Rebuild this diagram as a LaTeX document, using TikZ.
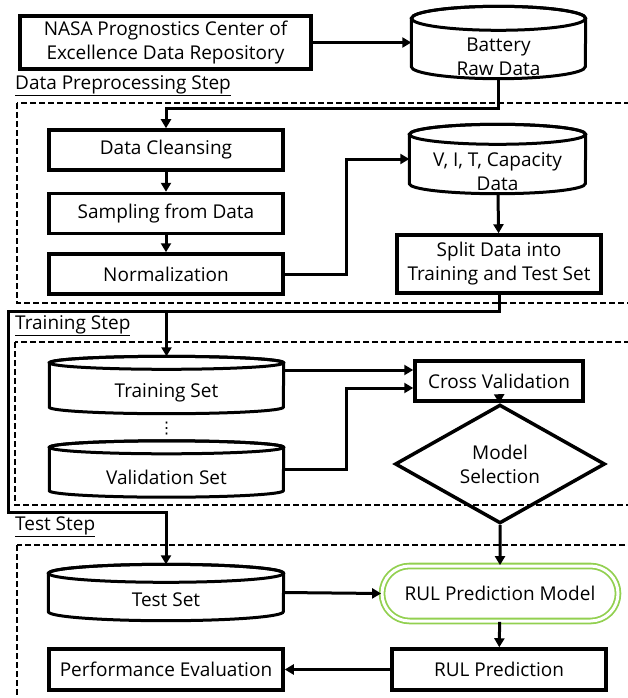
\documentclass[tikz,border=0pt]{standalone}
\usepackage{fontspec}
\setmainfont{Open Sans}
\newfontfamily\symfont{DejaVu Sans}
\usetikzlibrary{shapes.geometric,shapes.misc,arrows.meta,positioning,calc}
\definecolor{rulgreen}{RGB}{146,208,80}
\tikzset{
  basenode/.style = {align=center, inner sep=0pt, text centered, font=\fontsize{19}{24}\selectfont, text=black},
  proc_b/.style = {basenode, rectangle, draw=black, line width=3.5pt, fill=white},
  db_c/.style = {basenode, rectangle},
  db_line/.style = {draw=black, line width=3pt, fill=white},
  dec_d/.style = {basenode, diamond, draw=black, line width=3.5pt},
  model_r/.style = {basenode, rounded rectangle, draw=rulgreen, double=white, double distance=3pt, line width=1.8pt},
  step_lbl/.style = {basenode, anchor=west},
  step_frame/.style = {draw=black, line width=1.5pt, dash pattern=on 6pt off 3pt},
  arr/.style = {line width=3pt, -{Triangle[length=9pt,width=10pt]}}
}
\begin{document}
\begin{tikzpicture}[x=1pt, y=-1pt]
  \useasboundingbox (0,0) rectangle (628,698);
  \clip (0,0) rectangle (628,698);
  % step frames
  \draw [step_frame] (17,103) rectangle (650,303);
  \draw [step_frame] (15,342) rectangle (650,505);
  \draw [step_frame] (17,545) rectangle (650,720);
  \node [step_lbl] (lbl_pre) at (15,86) {\underline{Data Preprocessing Step}};
  \node [step_lbl] (lbl_trn) at (15,326) {\underline{Training Step}};
  \node [step_lbl] (lbl_tst) at (15,527) {\underline{Test Step}};

  % data preprocessing
  \node [proc_b, minimum width=291pt, minimum height=53pt] (nasa) at (165.5,42.5) {NASA Prognostics Center of\\Excellence Data Repository};
  \node [db_c, minimum width=174pt, minimum height=72pt] (raw) at (498.5,42.5) {};
  \node [proc_b, minimum width=234pt, minimum height=40pt] (clean) at (166,150) {Data Cleansing};
  \node [proc_b, minimum width=234pt, minimum height=40pt] (sample) at (166,213.5) {Sampling from Data};
  \node [proc_b, minimum width=234pt, minimum height=40pt] (norm) at (166,274) {Normalization};
  \node [db_c, minimum width=176pt, minimum height=69pt] (vitc) at (497.5,159) {};
  \node [proc_b, minimum width=204pt, minimum height=58pt] (split) at (499,264) {Split Data into\\Training and Test Set};

  % training
  \node [db_c, minimum width=234pt, minimum height=57pt] (train) at (166.5,385) {};
  \node [db_c, minimum width=234pt, minimum height=56pt] (val) at (166.5,469) {};
  \node [basenode, font=\fontsize{16}{16}\symfont] (dots) at (166.5,429) {⋮};
  \node [proc_b, minimum width=168pt, minimum height=40pt] (cross) at (499,381) {Cross Validation};
  \node [dec_d, minimum width=210pt, minimum height=68pt] (msel) at (500,464) {Model\\Selection};

  % test
  \node [db_c, minimum width=235pt, minimum height=56pt] (test) at (166,592.5) {};
  \node [model_r, minimum width=236pt, minimum height=55pt] (rulm) at (500,593.5) {RUL Prediction Model};
  \node [proc_b, minimum width=214pt, minimum height=41pt] (rul) at (499,669.5) {RUL Prediction};
  \node [proc_b, minimum width=234pt, minimum height=41pt] (perf) at (166,669.5) {Performance Evaluation};

  % cylinders: node / half width / cap radius
  \foreach \n/\w/\r in {raw/87/12, vitc/88/10, train/117/6.5, val/117/6.5, test/117.5/9} {
    \draw [db_line] ([yshift=-\r pt]\n.north west) -- ([yshift=\r pt]\n.south west)
      arc [start angle=180, end angle=360, x radius=\w pt, y radius=\r pt]
      -- ([yshift=-\r pt]\n.north east)
      arc [start angle=0, end angle=180, x radius=\w pt, y radius=\r pt] -- cycle;
    \draw [db_line, fill=none] ([yshift=-\r pt]\n.north) ellipse [x radius=\w pt, y radius=\r pt];
  }
  \node [basenode] (raw_t) at ([yshift=-14pt]raw.center) {Battery\\Raw Data};
  \node [basenode] (vitc_t) at ([yshift=-13pt]vitc.center) {V, I, T, Capacity\\Data};
  \node [basenode] (train_t) at ([yshift=-8pt]train.center) {Training Set};
  \node [basenode] (val_t) at ([yshift=-8pt]val.center) {Validation Set};
  \node [basenode] (test_t) at ([yshift=-7.5pt]test.center) {Test Set};

  % connectors
  \draw [arr] (nasa.east) -- (raw.west);
  \draw [arr] (raw.south) -- ++(0,30) -| (clean.north);
  \draw [arr] (clean) -- (sample);
  \draw [arr] (sample) -- (norm);
  \draw [arr] (norm.east) -- ++(62,0) |- (vitc.west);
  \draw [arr] (vitc) -- (split);
  \coordinate (jn) at ($(split.south)+(0,17)$);
  \coordinate (lft) at (8,512);
  \draw [arr] (split.south) -- (jn) -| (train.north);
  \draw [arr] (jn) -| (lft) -| (test.north);
  \coordinate (cvin1) at ([yshift=11pt]cross.west);
  \coordinate (cvin2) at ([yshift=-7pt]cross.west);
  \draw [arr] (cvin1 -| train.east) -- (cvin1);
  \draw [arr] (val.east) -- ++(63,0) |- (cvin2);
  \draw [arr] (cross) -- (msel);
  \draw [arr] (msel) -- (rulm);
  \draw [arr] (test.east) -- (rulm.west);
  \draw [arr] (rulm) -- (rul);
  \draw [arr] (rul) -- (perf);
\end{tikzpicture}
\end{document}
